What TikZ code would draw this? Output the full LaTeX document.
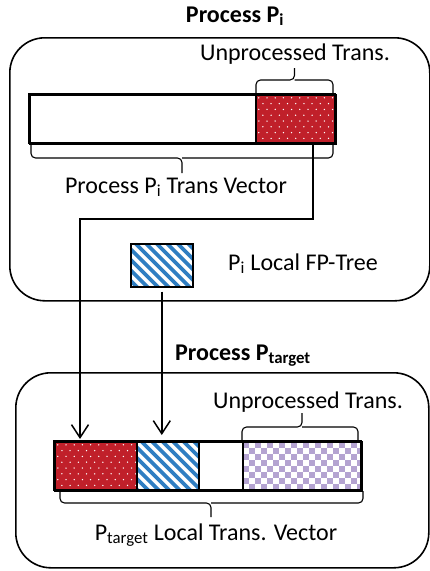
\documentclass[tikz,border=0pt]{standalone}
\usepackage{fontspec}
\setmainfont{Carlito}
\usetikzlibrary{arrows.meta}
\definecolor{redfill}{HTML}{C0202A}
\definecolor{bluestripe}{HTML}{2F7EC2}
\definecolor{purplechk}{HTML}{B4A3D1}
\tikzset{
  container/.style={draw, line width=1.6pt, rounded corners=35pt, inner sep=0pt, anchor=north west},
  seg/.style={draw, line width=1.6pt, inner sep=0pt, anchor=north west, minimum height=49pt},
  reddots/.style={fill=redfill, path picture={
    \path (path picture bounding box.north west) coordinate (pp);
    \foreach \r in {0,...,9}{
      \foreach \c in {0,...,11}{
        \pgfmathsetmacro{\xx}{\c*8.2+mod(\r,2)*4.1+3}
        \pgfmathsetmacro{\yy}{\r*5.8+3}
        \fill[white] ([shift={(\xx,\yy)}]pp) circle (0.75);
      }}}},
  bluestripes/.style={fill=white, path picture={
    \path (path picture bounding box.north west) coordinate (pp);
    \foreach \k in {-8,...,8}{
      \draw[bluestripe, line width=3.6pt] ([shift={(\k*10.5,-5)}]pp) -- ++(70,70);
    }}},
  checker/.style={fill=white, path picture={
    \path (path picture bounding box.north west) coordinate (pp);
    \foreach \i in {0,...,20}{
      \foreach \j in {0,...,9}{
        \pgfmathtruncatemacro{\s}{mod(\i+\j,2)}
        \ifnum\s=0
          \fill[purplechk] ([shift={(\i*6,\j*6)}]pp) rectangle ++(6,6);
        \fi
      }}}},
  txt/.style={anchor=base, inner sep=0pt},
  bracepath/.style={line width=1.1pt, rounded corners=4.5pt},
  conn/.style={line width=1.5pt, -{Straight Barb[length=13pt, width=17pt, line width=1.5pt]}}
}
\begin{document}
\begin{tikzpicture}[x=1pt, y=-1pt, font=\fontsize{24}{28}\selectfont]
\useasboundingbox (0,0) rectangle (430,571);

% containers
\node[container, minimum width=420pt, minimum height=263pt] (boxi) at (9,37) {};
\node[container, minimum width=413pt, minimum height=195pt] (boxt) at (15,372) {};

% titles
\node[txt] (titlei) at (235,22) {\textbf{Process P\textsubscript{i}}};
\node[txt] (titlet) at (243,360) {\textbf{Process P\textsubscript{target}}};

% top vector
\node[seg, minimum width=226pt] (vecw) at (29,94) {};
\node[seg, reddots, minimum width=80pt] (redtop) at (255,94) {};
\draw[line width=1.6pt] (29,94) rectangle (335,143);

\node[txt] (unproci) at (295,60) {Unprocessed Trans.};
\draw[bracepath] (256,93) |- (294.5,80) -- (294.5,68);
\draw[bracepath] (333,93) |- (294.5,80);
\draw[bracepath] (31,145) |- (182,158) -- (182,173);
\draw[bracepath] (333,145) |- (182,158);
\node[txt] (veclabel) at (176,193) {Process P\textsubscript{i} Trans Vector};

% local FP tree
\node[seg, bluestripes, minimum width=62pt, minimum height=43pt] (tree) at (130,243) {};
\node[txt] (treelabel) at (303,270) {P\textsubscript{i} Local FP-Tree};

% bottom vector
\node[seg, reddots, minimum width=82pt] (redbot) at (54,441) {};
\node[seg, bluestripes, minimum width=62pt] (bluebot) at (136,441) {};
\node[seg, minimum width=44pt] (whitebot) at (198,441) {};
\node[seg, checker, minimum width=119pt] (purplebot) at (242,441) {};
\draw[line width=1.6pt] (54,441) rectangle (361,490);

\node[txt] (unproct) at (308,408) {Unprocessed Trans.};
\draw[bracepath] (242,440) |- (302,427) -- (302,413);
\draw[bracepath] (358,440) |- (302,427);
\draw[bracepath] (60,491) |- (211,503) -- (211,517);
\draw[bracepath] (363,491) |- (211,503);
\node[txt] (vect) at (216,540) {P\textsubscript{target} Local Trans. Vector};

% connectors
\coordinate (turn) at (80,219);
\draw[conn, shorten >=2pt] ([xshift=17pt]redtop.south) |- (turn) -- (turn |- redbot.north);
\draw[conn, shorten <=4pt, shorten >=6pt] (tree.south) -- (tree.south |- bluebot.north);
\end{tikzpicture}
\end{document}
